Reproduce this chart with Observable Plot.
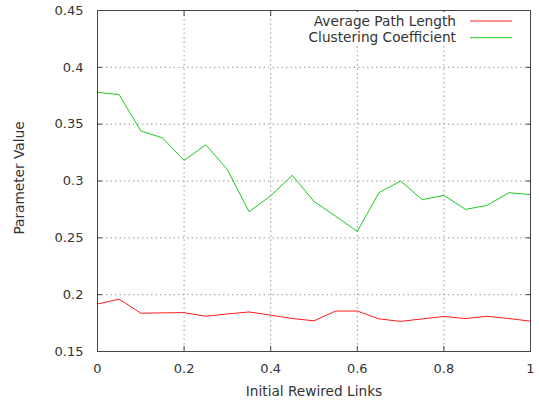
<!DOCTYPE html>
<html>
<head>
<meta charset="utf-8">
<script src="https://cdn.jsdelivr.net/npm/d3@7"></script>
<script src="https://cdn.jsdelivr.net/npm/@observablehq/plot@0.6"></script>
<style>
  html, body { margin: 0; padding: 0; background: white; }
</style>
</head>
<body>
<div id="chart"></div>
<script>
const rewired = [0, 0.05, 0.1, 0.15, 0.2, 0.25, 0.3, 0.35, 0.4, 0.45, 0.5, 0.55, 0.6, 0.65, 0.7, 0.75, 0.8, 0.85, 0.9, 0.95, 1];
const pathLength = [0.1918, 0.196, 0.1837, 0.184, 0.1842, 0.181, 0.183, 0.1848, 0.182, 0.179, 0.177, 0.1856, 0.1856, 0.1787, 0.1765, 0.1787, 0.1808, 0.179, 0.181, 0.179, 0.1767];
const clustering = [0.378, 0.376, 0.344, 0.338, 0.318, 0.332, 0.310, 0.273, 0.287, 0.305, 0.282, 0.269, 0.2556, 0.2897, 0.300, 0.2836, 0.2874, 0.275, 0.2786, 0.2897, 0.288];
const seriesNames = ["Average Path Length", "Clustering Coefficient"];
const seriesColors = ["#ff1a1a", "#1ec81e"];
const xTicks = [0, 0.2, 0.4, 0.6, 0.8, 1];
const yTicks = [0.15, 0.2, 0.25, 0.3, 0.35, 0.4, 0.45];

const rows = rewired.flatMap((x, i) => [
  {x, y: pathLength[i], s: seriesNames[0]},
  {x, y: clustering[i], s: seriesNames[1]}
]);

const fmt = d3.format("~g");
const W = 539, H = 405, ML = 97, MR = 9, MT = 10, MB = 54;

const chart = Plot.plot({
  width: W, height: H,
  marginLeft: ML, marginRight: MR, marginTop: MT, marginBottom: MB,
  style: {fontFamily: "DejaVu Sans", fontSize: "13px", color: "#333", background: "white"},
  x: {domain: [0, 1]},
  y: {domain: [0.15, 0.45]},
  color: {domain: seriesNames, range: seriesColors},
  marks: [
    Plot.gridX(xTicks.slice(1, -1), {stroke: "#999", strokeOpacity: 1, strokeDasharray: "1.5,3"}),
    Plot.gridY(yTicks.slice(1, -1), {stroke: "#999", strokeOpacity: 1, strokeDasharray: "1.5,3"}),
    Plot.line(rows, {x: "x", y: "y", stroke: "s", strokeWidth: 1}),
    Plot.frame({stroke: "#444"}),
    Plot.axisX(xTicks, {tickSize: -5, tickPadding: 17, tickFormat: fmt, stroke: "#444",
      label: "Initial Rewired Links", labelAnchor: "center", labelOffset: 44, labelArrow: "none"}),
    Plot.axisX(xTicks, {anchor: "top", tickSize: -5, tickFormat: () => "", stroke: "#444", label: null}),
    Plot.axisY(yTicks, {tickSize: -5, tickPadding: 19, tickFormat: fmt, stroke: "#444",
      label: "Parameter Value", labelAnchor: "center", labelOffset: 83, labelArrow: "none"}),
    Plot.axisY(yTicks, {anchor: "right", tickSize: -5, tickFormat: () => "", stroke: "#444", label: null})
  ]
});

const svg = d3.select(chart);
svg.selectAll('g[aria-label="x-axis label"] text, g[aria-label="y-axis label"] text').attr("font-size", "13.7px");
const yl = svg.select('g[aria-label="y-axis label"]');
if (!yl.empty()) yl.attr("transform", ((yl.attr("transform") || "") + " translate(0,-3)").trim());

// Legend (gnuplot-style key inside top-right)
const key = svg.append("g").attr("font-family", "DejaVu Sans").attr("font-size", 13.7).attr("fill", "#333");
const textRight = W - MR - 74;
const lineX1 = W - MR - 60, lineX2 = W - MR - 18;
key.append("rect").attr("x", textRight - 150).attr("y", MT + 2).attr("width", lineX2 - textRight + 155).attr("height", 34).attr("fill", "white");
seriesNames.forEach((name, i) => {
  const cy = MT + 11 + i * 16.7;
  key.append("text").attr("x", textRight).attr("y", cy).attr("dy", "0.35em").attr("text-anchor", "end").text(name);
  key.append("line").attr("x1", lineX1).attr("x2", lineX2).attr("y1", cy).attr("y2", cy)
    .attr("stroke", seriesColors[i]).attr("stroke-width", 1);
});

document.getElementById("chart").appendChild(chart);
</script>
</body>
</html>
